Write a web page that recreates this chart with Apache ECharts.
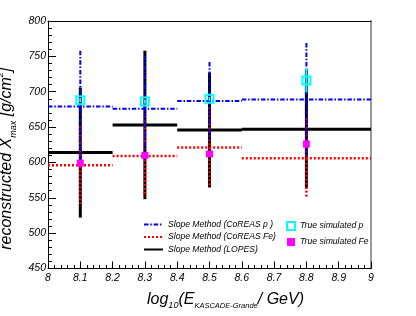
<!DOCTYPE html>
<html>
<head>
<meta charset="utf-8">
<script src="https://cdn.jsdelivr.net/npm/echarts@6/dist/echarts.min.js"></script>
<style>html,body{margin:0;padding:0;background:#fff;}#c{width:416px;height:316px;}</style>
</head>
<body>
<div id="c"></div>
<script>
// ---- data ----
var binLo = [8.0, 8.2, 8.4, 8.6];
var binHi = [8.2, 8.4, 8.6, 9.0];
var binCenter = [8.1, 8.3, 8.5, 8.8];
var pValues = [679, 676, 687, 689];
var pErr = [79, 75, 55, 80];
var feValues = [596, 609, 621, 606];
var feErr = [55, 57, 57, 56];
var lopesValues = [614, 653, 646, 647];
var lopesErr = [92, 105, 81, 84];
var trueP = [688, 686, 690, 716];
var truePErr = [3, 3, 3, 17];
var trueFe = [599, 610, 612, 626];
var trueFeErr = [3, 3, 3, 4];
var xTicks = ['8','8.1','8.2','8.3','8.4','8.5','8.6','8.7','8.8','8.9','9'];
var yTicks = [450, 500, 550, 600, 650, 700, 750, 800];

var FONT = 'Liberation Sans';

function stepData(vals) {
  var d = [];
  for (var i = 0; i < vals.length; i++) {
    d.push([binLo[i], vals[i]]);
    d.push([binHi[i], vals[i]]);
    d.push([binHi[i], '-']);
  }
  return d;
}
function errData(vals, errs) {
  return vals.map(function (v, i) { return [binCenter[i], v, errs[i]]; });
}
function errSeries(name, vals, errs, color, width, dash, z) {
  return {
    type: 'custom', name: name, z: z,
    data: errData(vals, errs),
    renderItem: function (params, api) {
      var x = api.value(0), y = api.value(1), e = api.value(2);
      var p1 = api.coord([x, y + e]);
      var p2 = api.coord([x, y - e]);
      return {
        type: 'line',
        shape: { x1: p1[0], y1: p1[1], x2: p2[0], y2: p2[1] },
        style: { stroke: color, lineWidth: width, lineDash: dash, fill: null }
      };
    },
    silent: true
  };
}

var blueDash = [4.5, 1.8, 1.5, 1.8];
var redDash = [2, 2];

var chart = echarts.init(document.getElementById('c'), null, { renderer: 'canvas' });
chart.setOption({
  animation: false,
  backgroundColor: '#fff',
  grid: { left: 48, right: 45, top: 21, bottom: 47.5, show: false, containLabel: false, outerBoundsMode: 'none' },
  xAxis: [{
    type: 'value', min: 8, max: 9, interval: 0.1,
    axisLine: { show: true, onZero: false, lineStyle: { color: '#000', width: 1 } },
    axisTick: { show: true, inside: true, length: 7, lineStyle: { color: '#000', width: 1 } },
    minorTick: { show: true, splitNumber: 5, length: 3.5, lineStyle: { color: '#000', width: 1 } },
    splitLine: { show: false },
    axisLabel: {
      margin: 4, color: '#000', fontFamily: FONT, fontStyle: 'italic', fontSize: 10.5,
      formatter: function (v) { var s = (Math.round(v * 10) / 10).toString(); return xTicks.indexOf(s) >= 0 ? s : ''; }
    },
    name: 'log{sub|10}(E{sub2|KASCADE-Grande}/ GeV)',
    nameLocation: 'middle', nameGap: 14,
    nameTextStyle: {
      color: '#000', fontFamily: FONT, fontStyle: 'italic', fontSize: 16, lineHeight: 22,
      padding: [0, 0, 0, 32],
      rich: {
        sub: { fontFamily: FONT, fontStyle: 'italic', fontSize: 9, verticalAlign: 'bottom', lineHeight: 22, color: '#000' },
        sub2: { fontFamily: FONT, fontStyle: 'italic', fontSize: 7.5, verticalAlign: 'bottom', lineHeight: 22, color: '#000' }
      }
    }
  }, {
    type: 'value', min: 8, max: 9, position: 'top',
    axisLine: { show: true, onZero: false, lineStyle: { color: '#000', width: 1 } },
    axisTick: { show: false }, axisLabel: { show: false }, splitLine: { show: false }
  }],
  yAxis: [{
    type: 'value', min: 450, max: 800, interval: 50,
    axisLine: { show: true, onZero: false, lineStyle: { color: '#000', width: 1 } },
    axisTick: { show: true, inside: true, length: 8, lineStyle: { color: '#000', width: 1 } },
    minorTick: { show: true, splitNumber: 5, length: 4, lineStyle: { color: '#000', width: 1 } },
    splitLine: { show: false },
    axisLabel: {
      margin: 2, color: '#000', fontFamily: FONT, fontStyle: 'italic', fontSize: 10.5,
      formatter: function (v) { return yTicks.indexOf(v) >= 0 ? String(v) : ''; }
    },
    name: 'reconstructed X{sub|max} [g/cm{sup|2}]',
    nameLocation: 'middle', nameGap: 23,
    nameTextStyle: {
      color: '#000', fontFamily: FONT, fontStyle: 'italic', fontSize: 16, lineHeight: 22,
      padding: [0, 28, 0, 0],
      rich: {
        sub: { fontFamily: FONT, fontStyle: 'italic', fontSize: 9, verticalAlign: 'bottom', lineHeight: 22, color: '#000' },
        sup: { fontFamily: FONT, fontStyle: 'italic', fontSize: 9, verticalAlign: 'top', lineHeight: 22, color: '#000' }
      }
    }
  }, {
    type: 'value', min: 450, max: 800, position: 'right',
    axisLine: { show: true, onZero: false, lineStyle: { color: '#999', width: 2 } },
    axisTick: { show: false }, axisLabel: { show: false }, splitLine: { show: false }
  }],
  legend: [{
    orient: 'vertical', left: 143, top: 220, padding: 0, itemWidth: 19, itemHeight: 10, itemGap: 3.5,
    itemStyle: { opacity: 0 },
    textStyle: { fontFamily: FONT, fontStyle: 'italic', fontSize: 8.6, color: '#000' },
    data: ['Slope Method (CoREAS p )', 'Slope Method (CoREAS Fe)', 'Slope Method (LOPES)']
  }, {
    orient: 'vertical', left: 286, top: 221, padding: 0, itemWidth: 8, itemHeight: 8, itemGap: 6.5,
    icon: 'rect',
    textStyle: { fontFamily: FONT, fontStyle: 'italic', fontSize: 8.6, color: '#000' },
    data: ['True simulated p', 'True simulated Fe']
  }],
  series: [
    errSeries('lopesErr', lopesValues, lopesErr, '#000', 3, null, 2),
    {
      type: 'line', name: 'Slope Method (LOPES)', data: stepData(lopesValues), z: 2,
      symbol: 'none', connectNulls: false, lineStyle: { color: '#000', width: 3 }, itemStyle: { color: '#000' }
    },
    errSeries('feErr', feValues, feErr, '#ff0000', 2.5, redDash, 3),
    {
      type: 'line', name: 'Slope Method (CoREAS Fe)', data: stepData(feValues), z: 3,
      symbol: 'none', connectNulls: false, lineStyle: { color: '#ff0000', width: 2.5, type: redDash }, itemStyle: { color: '#ff0000' }
    },
    errSeries('pErr', pValues, pErr, '#0000ff', 2, blueDash, 4),
    {
      type: 'line', name: 'Slope Method (CoREAS p )', data: stepData(pValues), z: 4,
      symbol: 'none', connectNulls: false, lineStyle: { color: '#0000ff', width: 2, type: blueDash }, itemStyle: { color: '#0000ff' }
    },
    errSeries('truePErr', trueP, truePErr, '#00ffff', 2, null, 5),
    errSeries('trueFeErr', trueFe, trueFeErr, '#ff00ff', 2, null, 5),
    {
      type: 'scatter', name: 'True simulated p', z: 6, symbol: 'rect', symbolSize: 8,
      data: trueP.map(function (v, i) { return [binCenter[i], v]; }),
      itemStyle: { color: 'rgba(255,255,255,0)', borderColor: '#00ffff', borderWidth: 2, opacity: 1 }
    },
    {
      type: 'scatter', name: 'True simulated Fe', z: 6, symbol: 'rect', symbolSize: 7,
      data: trueFe.map(function (v, i) { return [binCenter[i], v]; }),
      itemStyle: { color: '#ff00ff', opacity: 1 }
    }
  ]
});
</script>
</body>
</html>
